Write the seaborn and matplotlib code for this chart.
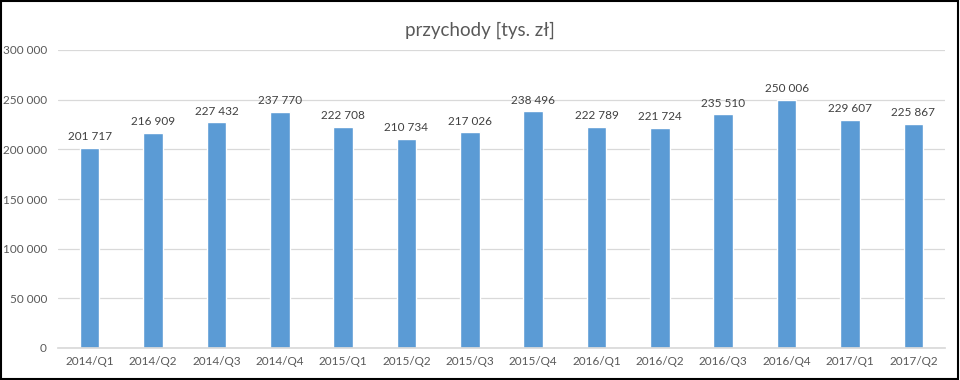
import matplotlib
matplotlib.use("Agg")
import matplotlib.pyplot as plt
import seaborn as sns
import pandas as pd

categories = ["2014/Q1", "2014/Q2", "2014/Q3", "2014/Q4", "2015/Q1", "2015/Q2", "2015/Q3",
              "2015/Q4", "2016/Q1", "2016/Q2", "2016/Q3", "2016/Q4", "2017/Q1", "2017/Q2"]
values = [201717, 216909, 227432, 237770, 222708, 210734, 217026,
          238496, 222789, 221724, 235510, 250006, 229607, 225867]
yticks = [0, 50000, 100000, 150000, 200000, 250000, 300000]

sns.set_theme(style="white")
plt.rcParams['font.family'] = ['Lato', 'DejaVu Sans']

df = pd.DataFrame({"kw": categories, "v": values})
fig = plt.figure(figsize=(9.6, 3.8), dpi=100)
ax = fig.add_axes([58/960, 1-348/380, 887/960, 298/380])
sns.barplot(data=df, x="kw", y="v", color="#5B9BD5", saturation=1, width=0.31, ax=ax, zorder=3)

def fmt(v):
    return f"{v:,}".replace(",", " ")

ax.set_ylim(0, 300000)
ax.set_yticks(yticks)
ax.set_yticklabels([fmt(t) for t in yticks], fontsize=8.5, color="#595959")
ax.tick_params(axis="x", labelsize=8.5, colors="#595959", length=0, pad=6)
ax.tick_params(axis="y", length=0, pad=8)
ax.set_xlabel("")
ax.set_ylabel("")
ax.grid(axis="y", color="#D9D9D9", linewidth=0.9, zorder=0)
for s in ["top", "right", "left"]:
    ax.spines[s].set_visible(False)
ax.spines["bottom"].set_color("#D9D9D9")
ax.spines["bottom"].set_zorder(4)

for i, v in enumerate(values):
    ax.annotate(fmt(v), (i, v), xytext=(0, 4), textcoords="offset points",
                ha="center", va="bottom", fontsize=8.5, color="#404040")

fig.text(0.5, 1-30/380, "przychody [tys. zł]", ha="center", va="center",
         fontsize=13.5, color="#595959")

border = plt.Rectangle((0.001, 0.002), 0.997, 0.995, transform=fig.transFigure,
                       fill=False, edgecolor="black", linewidth=1.5)
fig.patches.append(border)

fig.savefig("out.png", dpi=100)
